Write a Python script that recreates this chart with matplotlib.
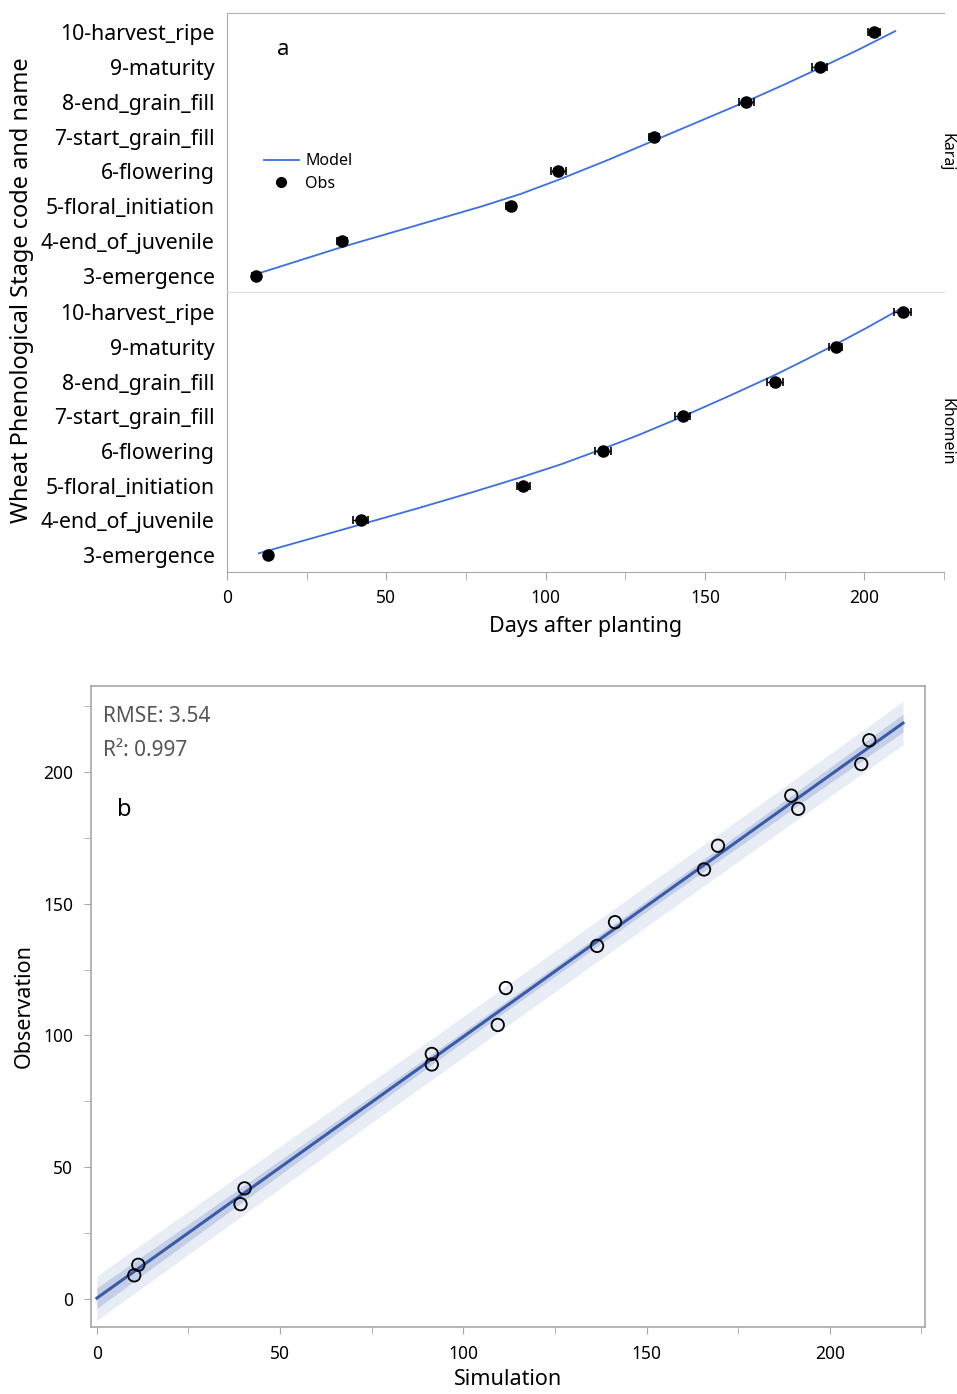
import numpy as np
import matplotlib
matplotlib.use("Agg")
import matplotlib.pyplot as plt
from matplotlib.lines import Line2D

plt.rcParams['font.family'] = ['Noto Sans', 'DejaVu Sans']

# ---------------- data ----------------
stage_codes = [3, 4, 5, 6, 7, 8, 9, 10]
stage_names = ["3-emergence", "4-end_of_juvenile", "5-floral_initiation", "6-flowering",
               "7-start_grain_fill", "8-end_grain_fill", "9-maturity", "10-harvest_ripe"]

# observed days after planting for each stage
karaj_obs_days = [9, 36, 89, 104, 134, 163, 186, 203]
khomein_obs_days = [13, 42, 93, 118, 143, 172, 191, 212]
karaj_obs_err = [1.0, 1.5, 1.5, 2.4, 1.5, 2.4, 2.4, 2.0]
khomein_obs_err = [1.0, 2.4, 2.0, 2.4, 2.4, 2.4, 2.0, 2.6]

# model trajectory (days, stage)
karaj_model_days = [9.4, 36.4, 62, 80, 92, 104, 119, 134.3, 149, 163.2, 175, 186, 198, 209.7]
karaj_model_stage = [3.06, 3.84, 4.52, 5.00, 5.35, 5.76, 6.31, 6.90, 7.47, 8.02, 8.50, 8.97, 9.49, 10.03]
khomein_model_days = [10, 25, 42, 60, 77, 93, 105, 118, 130, 143, 157, 172, 181, 191, 201, 210.5]
khomein_model_stage = [3.05, 3.44, 3.88, 4.35, 4.81, 5.26, 5.62, 6.06, 6.49, 6.99, 7.56, 8.19,
                       8.60, 9.07, 9.56, 10.05]

# panel b: simulated vs observed days
sim_days = [10.2, 39.2, 91.4, 109.4, 136.5, 165.7, 191.4, 208.6,
            11.3, 40.3, 91.4, 111.6, 141.4, 169.5, 189.5, 210.8]
obs_days = karaj_obs_days + khomein_obs_days

rmse_text = "RMSE: 3.54"
r2_text = "R\u00b2: 0.997"

# ---------------- figure ----------------
W, H = 957, 1394
fig = plt.figure(figsize=(W / 100, H / 100), dpi=100)

def ax_rect(l, t, r, b):
    return [l / W, 1 - b / H, (r - l) / W, (b - t) / H]

model_color = '#3c6fe0'
spine_gray = '#a8a8a8'
tick_fs = 15.3

axes_a = [fig.add_axes(ax_rect(227, 13, 944, 292)), fig.add_axes(ax_rect(227, 292, 944, 572))]
panels = [
    (karaj_obs_days, karaj_obs_err, karaj_model_days, karaj_model_stage, "Karaj", (2.54, 10.55)),
    (khomein_obs_days, khomein_obs_err, khomein_model_days, khomein_model_stage, "Khomein", (2.51, 10.58)),
]
for i, (ax, (od, oe, md, ms, site, yl)) in enumerate(zip(axes_a, panels)):
    ax.plot(md, ms, color=model_color, lw=1.3, zorder=2)
    ax.errorbar(od, stage_codes, xerr=oe, fmt='o', color='black', ms=8,
                capsize=3, elinewidth=1, capthick=1.2, zorder=3)
    ax.set_xlim(0, 225)
    ax.set_ylim(*yl)
    ax.set_yticks(stage_codes)
    ax.set_yticklabels(stage_names, fontsize=tick_fs)
    ax.tick_params(axis='y', length=0, pad=9)
    ax.spines['right'].set_visible(False)
    for s in ['left', 'top', 'bottom']:
        ax.spines[s].set_color(spine_gray)
    if i == 0:
        ax.spines['bottom'].set_visible(False)
        ax.spines['top'].set_color('#b0b0b0')
        ax.tick_params(axis='x', length=0, labelbottom=False)
        ax.text(0.078, 0.87, "a", transform=ax.transAxes, fontsize=16, ha='center', va='center')
        handles = [Line2D([], [], color=model_color, lw=1.3),
                   Line2D([], [], ls='none', marker='o', color='black', ms=7)]
        ax.legend(handles, ["Model", "Obs"], loc='upper left', bbox_to_anchor=(0.042, 0.52),
                  frameon=False, fontsize=11.5, handlelength=2.2, handletextpad=0.4,
                  borderaxespad=0, labelspacing=0.4)
    else:
        ax.spines['top'].set_color('#dcdcdc')
        ax.set_xticks([0, 50, 100, 150, 200])
        ax.set_xticks([25, 75, 125, 175, 225], minor=True)
        ax.tick_params(axis='x', which='both', length=6, color=spine_gray, labelsize=12.5, pad=6)
        ax.set_xlabel("Days after planting", fontsize=15.5, labelpad=7)
    # facet strip label at the right edge
    pos = ax.get_position()
    fig.text(939 / W, pos.y0 + pos.height / 2, site, rotation=270, fontsize=11.5,
             ha='left', va='center')

fig.text(22 / W, 1 - 290 / H, "Wheat Phenological Stage code and name", rotation=90,
         fontsize=17, ha='center', va='center')

# ---------------- panel b ----------------
axb = fig.add_axes(ax_rect(91, 686, 925, 1327))
x = np.asarray(sim_days, float)
y = np.asarray(obs_days, float)
n = len(x)
slope, intercept = np.polyfit(x, y, 1)
resid = y - (slope * x + intercept)
s = np.sqrt(np.sum(resid ** 2) / (n - 2))
xg = np.linspace(0, 220, 200)
yg = slope * xg + intercept
sxx = np.sum((x - x.mean()) ** 2)
tval = 2.145
ci = tval * s * np.sqrt(1 / n + (xg - x.mean()) ** 2 / sxx)
pi = tval * s * np.sqrt(1 + 1 / n + (xg - x.mean()) ** 2 / sxx)
axb.fill_between(xg, yg - pi, yg + pi, color='#e7ecf5', lw=0, zorder=1)
axb.fill_between(xg, yg - ci, yg + ci, color='#c4cfe7', lw=0, zorder=2)
axb.plot(xg, yg, color='#3a5ca8', lw=2.2, zorder=3)
axb.scatter(x, y, s=80, facecolors='none', edgecolors='black', linewidths=1.3, zorder=4)

axb.set_xlim(-1.6, 226)
axb.set_ylim(-10.6, 232.6)
axb.set_xticks([0, 50, 100, 150, 200])
axb.set_xticks([25, 75, 125, 175, 225], minor=True)
axb.set_yticks([0, 50, 100, 150, 200])
axb.set_yticks([25, 75, 125, 175, 225], minor=True)
axb.tick_params(axis='both', which='both', length=5, color=spine_gray, labelsize=12.5)
axb.tick_params(axis='x', pad=8)
axb.tick_params(axis='y', pad=8)
for sp in axb.spines.values():
    sp.set_color(spine_gray)
    sp.set_linewidth(1.2)
axb.set_xlabel("Simulation", fontsize=15.5, labelpad=4)
axb.set_ylabel("Observation", fontsize=15.5, labelpad=6)
axb.text(0.014, 0.952, rmse_text, transform=axb.transAxes, fontsize=15, color='#555555',
         ha='left', va='center')
axb.text(0.014, 0.899, r2_text, transform=axb.transAxes, fontsize=15, color='#555555',
         ha='left', va='center')
axb.text(0.04, 0.807, "b", transform=axb.transAxes, fontsize=17, ha='center', va='center')

fig.savefig("out.png", dpi=100)
